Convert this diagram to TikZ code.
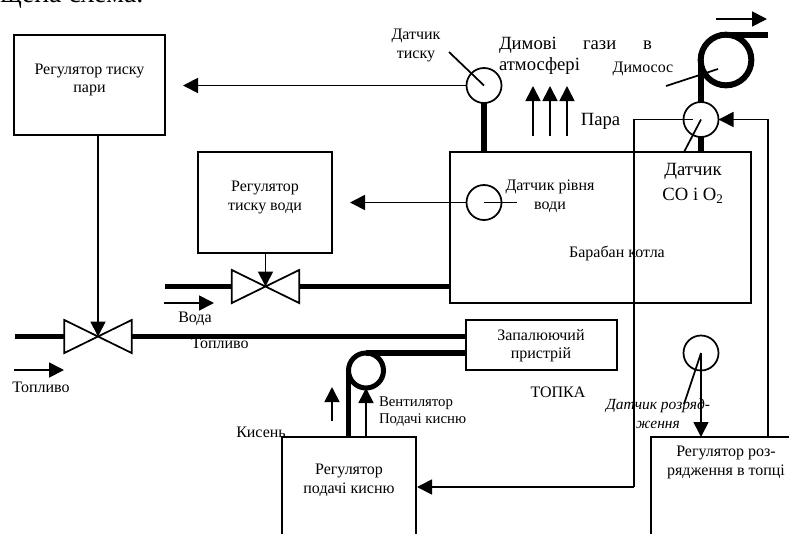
\documentclass[tikz,border=0pt]{standalone}
\usepackage{fontspec}
\setmainfont{Liberation Serif}
\usetikzlibrary{arrows.meta,calc}
\tikzset{
  x=0.75pt,y=-0.75pt,
  thin line/.style={line width=1.3pt,draw=black},
  pipe/.style={line width=4.3pt,draw=black},
  sig/.style={thin line,-{Triangle[length=11.25pt,width=11.25pt]}},
  boxn/.style={draw=black,line width=1.4pt,inner sep=0pt,outer sep=0pt,fill=none,anchor=north west,align=center},
  sensor/.style={circle,draw=black,line width=1.3pt,minimum size=26.25pt,inner sep=0pt,outer sep=0pt},
  fan/.style={circle,draw=black,inner sep=0pt,outer sep=0pt},
  valve/.style={minimum width=50.5pt,minimum height=24.75pt,inner sep=0pt,outer sep=0pt},
  lbl/.style={inner sep=0pt,outer sep=0pt,align=center,font=\fontsize{12}{13.9}\selectfont},
  lblb/.style={inner sep=0pt,outer sep=0pt,align=center,font=\fontsize{14}{16}\selectfont},
}
\newcommand{\valveshape}[1]{\draw[thin line,line join=miter,fill=white] (#1.north west)--(#1.south east)--(#1.north east)--(#1.south west)--cycle;}
\begin{document}
\begin{tikzpicture}
\useasboundingbox (0,0) rectangle (789,533);
\clip (0,0) rectangle (789,533);

% text under the lines
\node[inner sep=0pt,anchor=base west,font=\fontsize{21}{24}\selectfont] (title) at (0,2) {щена схема.};
\node[lbl] (tfuelb) at (220,343) {Топливо};
\node[lbl] (tbaraban) at (617,253) {Барабан котла};

% boxes
\node[boxn,minimum width=113.25pt,minimum height=75pt] (b1) at (14,35) {};
\node[lbl] (t1) at (89.5,80) {Регулятор тиску\\пари};
\node[boxn,minimum width=100.5pt,minimum height=75.75pt] (b2) at (198,152) {};
\node[lbl] (t2) at (265,197.5) {Регулятор\\тиску води};
\node[boxn,minimum width=225.75pt,minimum height=113.25pt] (boiler) at (450,152) {};
\node[boxn,minimum width=113.25pt,minimum height=37.5pt] (ign) at (466,320) {};
\node[lbl] (t5) at (541,345.5) {Запалюючий\\пристрій};
\node[boxn,minimum width=100.5pt,minimum height=90pt] (b3) at (282,437) {};
\node[lbl] (t3) at (349,480.5) {Регулятор\\подачі кисню};
\node[boxn,minimum width=120pt,minimum height=90pt] (b4) at (651,437) {};
\node[lbl] (t4) at (726,462.5) {Регулятор роз-\\рядження в топці};

% sensors, valves, fans
\node[sensor] (s1) at (484,85.5) {};
\node[sensor] (s2) at (484,202.5) {};
\node[sensor] (s3) at (701,119.5) {};
\node[sensor] (s4) at (701,353) {};
\node[valve] (v1) at (98,336.5) {};
\node[valve] (v2) at (265.5,286.5) {};
\node[fan,line width=3.75pt,minimum size=26.25pt] (f1) at (366,370.5) {};
\node[fan,line width=4.5pt,minimum size=38pt] (f2) at (726,60) {};

% free ends
\coordinate (pw) at (165,286.5);
\coordinate (fw) at (15,336.5);
\coordinate (fanout) at (768,35);
\coordinate (a1s) at (164,303); \coordinate (a1e) at (214,303);
\coordinate (a2s) at (14,370);  \coordinate (a2e) at (64,370);
\coordinate (a3s) at (716,19);  \coordinate (a3e) at (767,19);
\coordinate (k1s) at (332,421); \coordinate (k1e) at (332,387);
\coordinate (p1s) at (533,136); \coordinate (p1e) at (533,86);
\coordinate (p2s) at (550,136); \coordinate (p2e) at (550,86);
\coordinate (p3s) at (567,136); \coordinate (p3e) at (567,86);
\coordinate (x183) at (183,0);
\coordinate (x350) at (350,0);
\coordinate (x416) at (417,487);
\coordinate (c487) at (634,487);
\coordinate (c692) at (692.5,119.5);
\coordinate (x768) at (768,0);
\coordinate (leadA) at (449,52);
\coordinate (leadB) at (517,202.5);
\coordinate (leadC) at (684,152);
\coordinate (leadD) at (684,404);
\coordinate (dymA) at (666,86);
\coordinate (dymB) at (718,69);

% pipes
\draw[pipe] (pw) -- (v2.west);
\draw[pipe] (v2.east) -- (v2.east -| boiler.west);
\draw[pipe] (fw) -- (v1.west);
\draw[pipe] (v1.east) -- (v1.east -| ign.west);
\draw[pipe] (f1.north) -- (f1.north -| ign.west);
\draw[pipe] (f1.west) -- (f1.west |- b3.north);
\draw[pipe] (s1.south) -- (s1.south |- boiler.north);
\draw[pipe] (s3.south) -- (s3.south |- boiler.north);
\draw[pipe] (s3.north) -- (s3.north |- f2.west);
\draw[pipe] (f2.north) -- (f2.north -| fanout);

% valves on top of pipes
\valveshape{v1}
\valveshape{v2}

% signal lines
\draw[sig] (s1.west) -- (s1.west -| x183);
\draw[sig] (s2.west) -- (s2.west -| x350);
\draw[sig] (b1.south -| v1.center) -- (v1.center);
\draw[sig] (b2.south -| v2.center) -- (v2.center);
\draw[sig] (a1s) -- (a1e);
\draw[sig] (a2s) -- (a2e);
\draw[sig] (a3s) -- (a3e);
\draw[sig] (k1s) -- (k1e);
\draw[sig] (f1.south |- b3.north) -- (f1.south);
\draw[sig] (p1s) -- (p1e);
\draw[sig] (p2s) -- (p2e);
\draw[sig] (p3s) -- (p3e);
\draw[sig] (s4.center) -- (s4.center |- b4.north);
\draw[sig] (b4.north -| x768) -- (s3.east -| x768) -- (s3.east);
\draw[thin line] (c692) -- (c692 -| c487) -- (c487);
\draw[sig] (c487) -- (x416);

% sensor leaders
\draw[thin line] (leadA) -- (s1.center);
\draw[thin line] (s2.center) -- (leadB);
\draw[thin line] (s3.center) -- (leadC);
\draw[thin line] (s4.center) -- (leadD);
\draw[thin line] (dymA) -- (dymB);

% labels
\node[lbl] (ts1) at (416,45.5) {Датчик\\тиску};
\node[lblb,anchor=west] (tg1) at (499,45) {Димові};
\node[lblb,anchor=west] (tg2) at (583,45) {гази};
\node[lblb,anchor=west] (tg3) at (643,45) {в};
\node[lblb,anchor=west] (tg4) at (499,66) {атмосфері};
\node[lbl] (tdym) at (643,69) {Димосос};
\node[lblb] (tpara) at (600.5,121) {Пара};
\node[lbl] (ts2) at (550,196) {Датчик рівня\\води};
\node[lblb] (ts3) at (693,171) {Датчик};
\node[lblb] (ts3b) at (693,196) {CO і O\textsubscript{2}};
\node[lbl] (twater) at (195,319) {Вода};
\node[lbl] (tfuel) at (41,387) {Топливо};
\node[lbl] (tkis) at (261,432) {Кисень};
\node[lbl,align=left,anchor=west,font=\fontsize{11.1}{12.8}\selectfont] (tfan) at (379,411.5) {Вентилятор\\Подачі кисню};
\node[lblb,font=\fontsize{12}{14}\selectfont] (ttopka) at (558,392) {ТОПКА};
\node[lbl,font=\fontsize{11.6}{13.9}\selectfont\itshape] (ts4) at (658,413.5) {Датчик розряд-\\ження};
\end{tikzpicture}
\end{document}
